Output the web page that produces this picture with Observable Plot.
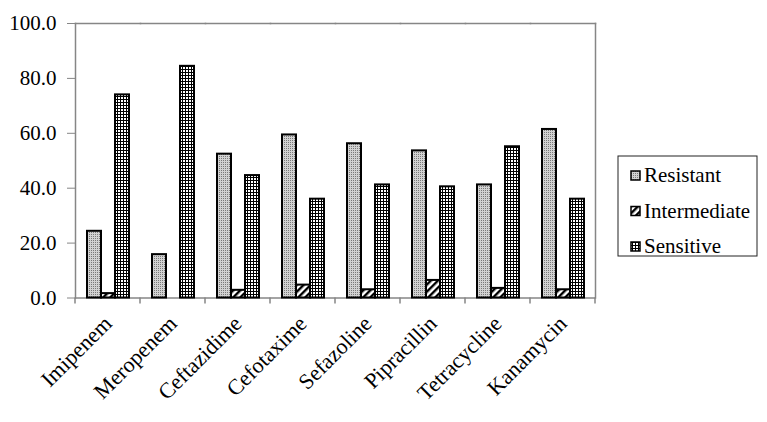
<!DOCTYPE html>
<html>
<head>
<meta charset="utf-8">
<script src="https://cdn.jsdelivr.net/npm/d3@7"></script>
<script src="https://cdn.jsdelivr.net/npm/@observablehq/plot@0.6"></script>
<style>
  body { margin: 0; background: #fff; }
  #wrap { position: relative; width: 767px; height: 422px; }
  #chart svg { display: block; }
  #legend { position: absolute; left: 617px; top: 155px; }
</style>
</head>
<body>
<div id="wrap">
  <div id="chart"></div>
  <div id="legend"></div>
</div>
<script>
const categories = ["Imipenem", "Meropenem", "Ceftazidime", "Cefotaxime", "Sefazoline", "Pipracillin", "Tetracycline", "Kanamycin"];
const series = ["Resistant", "Intermediate", "Sensitive"];
const resistant = [24.3, 15.8, 52.4, 59.4, 56.2, 53.6, 41.2, 61.4];
const intermediate = [1.6, 0, 2.8, 4.7, 3.0, 6.4, 3.5, 3.0];
const sensitive = [74.0, 84.4, 44.6, 36.0, 41.2, 40.5, 55.1, 36.0];
const yTicks = [0, 20, 40, 60, 80, 100];

const valuesBySeries = { Resistant: resistant, Intermediate: intermediate, Sensitive: sensitive };
const patternIds = { Resistant: "patR", Intermediate: "patI", Sensitive: "patS" };
const data = categories.flatMap((c, i) => series.map(s => ({ category: c, series: s, value: valuesBySeries[s][i] })));

const axisGrey = "#868686";
const serif = '"Liberation Serif", "Times New Roman", serif';

const chart = Plot.plot({
  width: 767,
  height: 422,
  marginLeft: 72,
  marginRight: 170,
  marginTop: 23,
  marginBottom: 124.5,
  style: { fontFamily: serif, fontSize: "21px", color: "#000", background: "#fff" },
  fx: { domain: categories, padding: 0, label: null },
  x: { domain: series, paddingInner: 0, paddingOuter: 0.7375, axis: null },
  y: { domain: [0, 100], label: null },
  marks: [
    Plot.ruleY([0], { stroke: axisGrey, strokeWidth: 1.5 }),
    Plot.frame({ anchor: "top", stroke: axisGrey, strokeWidth: 1.5 }),
    Plot.frame({ anchor: "right", facetAnchor: "right", stroke: axisGrey, strokeWidth: 1.5 }),
    Plot.frame({ anchor: "left", facetAnchor: "left", stroke: axisGrey, strokeWidth: 1.5 }),
    ...series.map(s => Plot.barY(data.filter(d => d.series === s), {
      fx: "category", x: "series", y: "value",
      filter: d => d.value > 0,
      fill: `url(#${patternIds[s]})`, stroke: "#000", strokeWidth: 2
    })),
    Plot.axisY({ ticks: yTicks, tickFormat: d => d.toFixed(1), tickSize: 8, tickPadding: 11, label: null, stroke: axisGrey, fill: "#000", fontSize: 21 }),
    Plot.axisFx({ anchor: "bottom", tickRotate: -45, tickSize: 0, tickPadding: 22, label: null, fill: "#000", fontSize: 22 })
  ]
});

// patterns
const svg = d3.select(chart);
const defs = svg.insert("defs", ":first-child");
const pR = defs.append("pattern").attr("id", "patR").attr("patternUnits", "userSpaceOnUse").attr("width", 2).attr("height", 2);
pR.append("rect").attr("width", 2).attr("height", 2).attr("fill", "#d2d2d2");
pR.append("rect").attr("width", 1).attr("height", 1).attr("fill", "#7a7a7a");
const pI = defs.append("pattern").attr("id", "patI").attr("patternUnits", "userSpaceOnUse").attr("width", 5).attr("height", 5).attr("patternTransform", "rotate(45)");
pI.append("rect").attr("width", 5).attr("height", 5).attr("fill", "#fff");
pI.append("rect").attr("width", 2.4).attr("height", 5).attr("fill", "#000");
const pS = defs.append("pattern").attr("id", "patS").attr("patternUnits", "userSpaceOnUse").attr("width", 3).attr("height", 3);
pS.append("rect").attr("width", 3).attr("height", 3).attr("fill", "#fff");
pS.append("rect").attr("width", 3).attr("height", 1).attr("fill", "#000");
pS.append("rect").attr("width", 1).attr("height", 3).attr("fill", "#000");

// category boundary ticks (Excel style) using the fx and y scales
const fxScale = chart.scale("fx");
const yScale = chart.scale("y");
const y0 = yScale.apply(0);
const bounds = categories.map(c => fxScale.apply(c)).concat([fxScale.apply(categories[categories.length - 1]) + fxScale.bandwidth]);
svg.append("g").selectAll("line").data(bounds).join("line")
  .attr("x1", d => d).attr("x2", d => d)
  .attr("y1", y0).attr("y2", y0 + 6)
  .attr("stroke", axisGrey).attr("stroke-width", 1.5);

document.getElementById("chart").appendChild(chart);

// legend (SVG, serif text)
const lg = d3.select("#legend").append("svg").attr("width", 142).attr("height", 103).style("display", "block");
lg.append("rect").attr("x", 1).attr("y", 1).attr("width", 139).attr("height", 100)
  .attr("fill", "#fff").attr("stroke", "#222").attr("stroke-width", 1);
const baselines = [27, 62.5, 98];
series.forEach((s, i) => {
  lg.append("rect").attr("x", 14).attr("y", baselines[i] - 11).attr("width", 9).attr("height", 9)
    .attr("fill", `url(#${patternIds[s]})`).attr("stroke", "#000").attr("stroke-width", 1.5);
  lg.append("text").attr("x", 27).attr("y", baselines[i])
    .attr("font-family", serif).attr("font-size", 21).attr("fill", "#000").text(s);
});
</script>
</body>
</html>
